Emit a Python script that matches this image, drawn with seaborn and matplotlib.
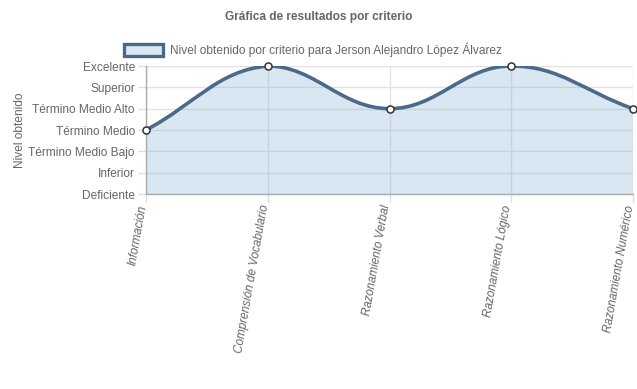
import numpy as np
import matplotlib
matplotlib.use("Agg")
import matplotlib.pyplot as plt
import matplotlib.transforms as mtransforms
from matplotlib.path import Path
from matplotlib.patches import PathPatch, Patch
import seaborn as sns

# data
criterios = ["Información", "Comprensión de Vocabulario", "Razonamiento Verbal",
             "Razonamiento Lógico", "Razonamiento Numérico"]
niveles = ["Deficiente", "Inferior", "Término Medio Bajo", "Término Medio",
           "Término Medio Alto", "Superior", "Excelente"]
valores = [3, 6, 4, 6, 4]
serie = "Nivel obtenido por criterio para Jerson Alejandro López Álvarez"

LINE = "#4b6a89"
FILL = (120 / 255, 170 / 255, 215 / 255, 0.28)
TXT = "#666666"

sns.set_theme(style="white")
plt.rcParams["font.family"] = ["Liberation Sans", "DejaVu Sans"]

fig = plt.figure(figsize=(6.37, 3.89), dpi=100)
ax = fig.add_axes([146 / 637, 1 - 194 / 389, (633 - 146) / 637, (194 - 66) / 389])
x = np.arange(len(criterios))
ax.set_xlim(0, len(criterios) - 1)
ax.set_ylim(0, len(niveles) - 1)


def spline_path(xs, ys, tension=0.4):
    """Chart.js style bezier curve, control points computed in pixel space."""
    pts = ax.transData.transform(np.column_stack([xs, ys]))
    bb = ax.bbox
    n = len(pts)
    cps = []
    for i in range(n):
        cur = pts[i]
        prev = pts[i - 1] if i > 0 else cur
        nxt = pts[i + 1] if i < n - 1 else cur
        d01 = np.hypot(*(cur - prev))
        d12 = np.hypot(*(nxt - cur))
        tot = d01 + d12
        s01 = d01 / tot if tot else 0
        s12 = d12 / tot if tot else 0
        cp_prev = cur - tension * s01 * (nxt - prev)
        cp_next = cur + tension * s12 * (nxt - prev)
        for cp in (cp_prev, cp_next):
            cp[0] = min(max(cp[0], bb.x0), bb.x1)
            cp[1] = min(max(cp[1], bb.y0), bb.y1)
        cps.append((cp_prev, cp_next))
    verts = [pts[0]]
    codes = [Path.MOVETO]
    for i in range(n - 1):
        verts += [cps[i][1], cps[i + 1][0], pts[i + 1]]
        codes += [Path.CURVE4] * 3
    inv = ax.transData.inverted()
    return inv.transform(np.array(verts)), codes


verts, codes = spline_path(x, valores)

# fill under the curve
fverts = np.vstack([[x[0], 0], verts, [x[-1], 0], [x[0], 0]])
fcodes = [Path.MOVETO, Path.LINETO] + codes[1:] + [Path.LINETO, Path.CLOSEPOLY]
ax.add_patch(PathPatch(Path(fverts, fcodes), facecolor=FILL, edgecolor="none", zorder=2))
ax.add_patch(PathPatch(Path(verts, codes), facecolor="none", edgecolor=LINE,
                       linewidth=2.6, zorder=3, capstyle="round", joinstyle="round"))

sns.scatterplot(x=x, y=valores, ax=ax, s=26, color="white", edgecolor="#333333",
                linewidth=1.1, zorder=4, clip_on=False, legend=False)

# grid and axes
ax.set_axisbelow(True)
ax.grid(True, color="#e3e3e3", linewidth=1)
ax.set_xticks(x)
ax.set_xticklabels(criterios, rotation=80, ha="right", va="center",
                   rotation_mode="anchor", fontstyle="italic", color=TXT, fontsize=8.5)
ax.set_yticks(range(len(niveles)))
ax.set_yticklabels(niveles, color=TXT, fontsize=8.6)
ax.tick_params(axis="both", length=6, width=1, color="#dddddd", pad=2, bottom=True, left=True)
# nudge rotated labels a little left so the last one stays inside the canvas
shift = mtransforms.ScaledTranslation(-3 / 100, 0, fig.dpi_scale_trans)
for lbl in ax.get_xticklabels():
    lbl.set_transform(lbl.get_transform() + shift)
for side in ("top", "right"):
    ax.spines[side].set_visible(False)
ax.spines["left"].set_color("#aaaaaa")
ax.spines["bottom"].set_color("#aaaaaa")
ax.spines["left"].set_linewidth(1)
ax.spines["bottom"].set_linewidth(1)
ax.set_ylabel("Nivel obtenido", color=TXT, fontsize=8.6, labelpad=4)
ax.yaxis.set_label_coords(-120 / (633 - 146), 0.5)

fig.text(0.5, 1 - 17 / 389, "Gráfica de resultados por criterio", ha="center", va="center",
         fontsize=8.6, fontweight="bold", color=TXT)

handle = Patch(facecolor=(218 / 255, 232 / 255, 244 / 255), edgecolor=LINE, linewidth=2.4)
fig.legend([handle], [serie], loc="center", bbox_to_anchor=(313 / 637, 1 - 50 / 389),
           frameon=False, fontsize=8.6, labelcolor=TXT, handlelength=3.3,
           handleheight=1.1, handletextpad=0.6, borderpad=0)

fig.savefig("out.png", dpi=100)
